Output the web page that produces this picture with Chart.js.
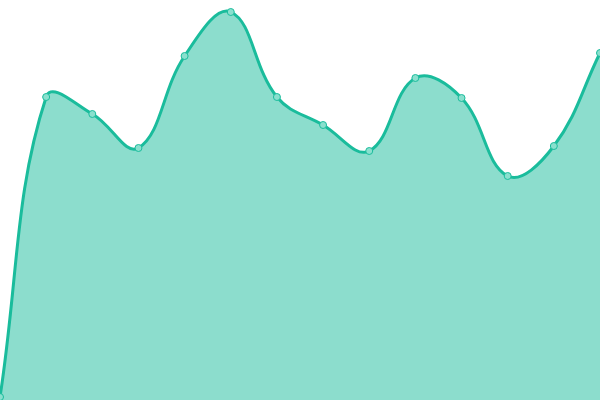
<!DOCTYPE html>
<html>
<head>
<meta charset="utf-8">
<script src="https://cdn.jsdelivr.net/npm/chart.js@4/dist/chart.umd.min.js"></script>
<style>
    html, body { margin: 0; padding: 0; background: #fff; }
    .chart-box { width: 600px; height: 400px; }
</style>
</head>
<body>
<div class="chart-box"><canvas id="area-chart"></canvas></div>
<script>
    // Chart data
    var labels = ["1", "2", "3", "4", "5", "6", "7", "8", "9", "10", "11", "12", "13", "14"];
    var values = [3, 303, 286, 252, 344, 388, 303, 275, 249, 322, 302, 224, 254, 347];

    var ctx = document.getElementById("area-chart").getContext("2d");
    var areaChart = new Chart(ctx, {
        type: "line",
        data: {
            labels: labels,
            datasets: [{
                data: values,
                borderColor: "#1abc9c",
                borderWidth: 3,
                backgroundColor: "rgba(26, 188, 156, .5)",
                fill: true,
                tension: 0.4,
                pointRadius: 3.5,
                pointBorderWidth: 1,
                pointBackgroundColor: "#8ae0ce",
                pointBorderColor: "#1abc9c"
            }]
        },
        options: {
            responsive: true,
            maintainAspectRatio: false,
            animation: false,
            layout: { padding: 0, autoPadding: false },
            plugins: {
                legend: { display: false },
                tooltip: { enabled: false }
            },
            scales: {
                x: { display: false, offset: false },
                y: { display: false, min: 0, max: 400 }
            }
        }
    });
</script>
</body>
</html>
